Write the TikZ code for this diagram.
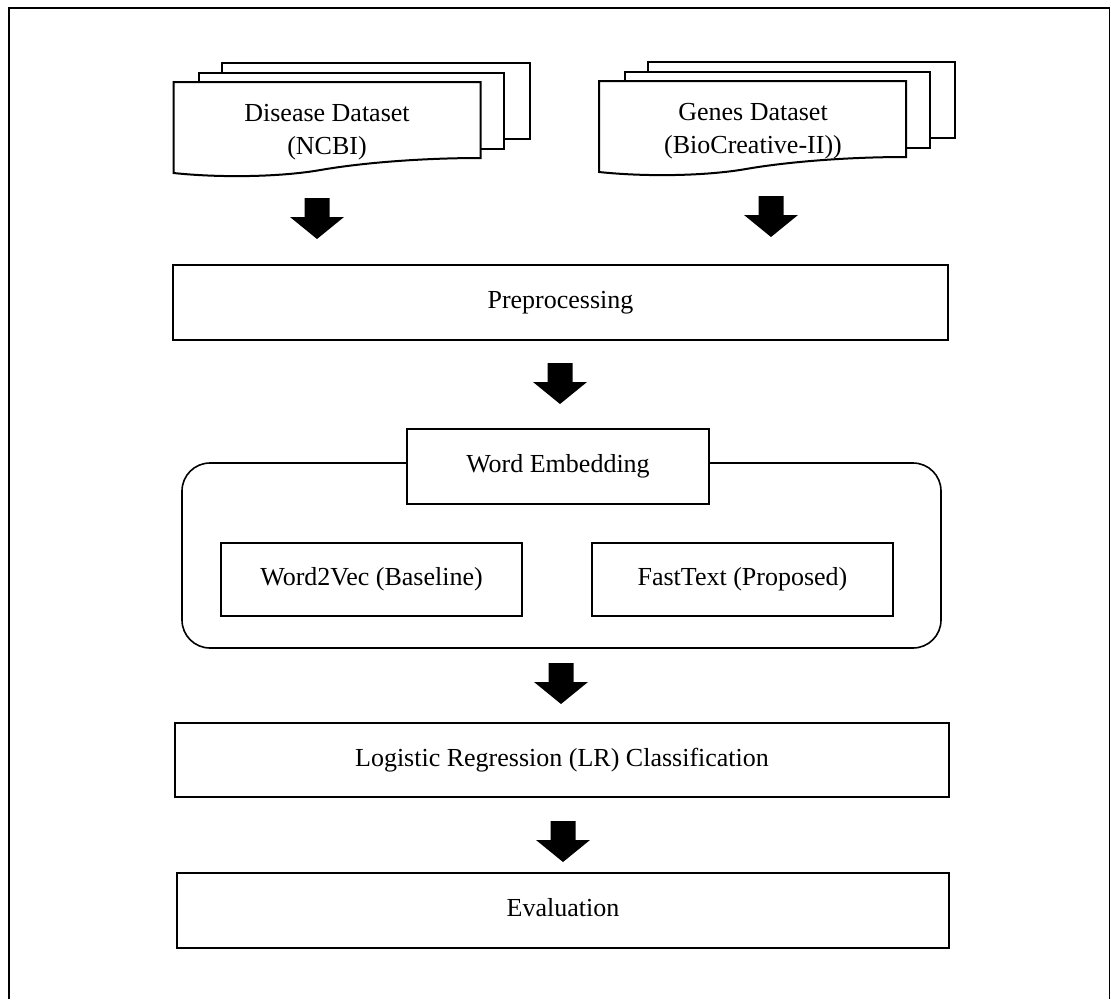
\documentclass[tikz,border=0pt]{standalone}
\usepackage{fontspec}
\setmainfont{Liberation Serif}
\begin{document}
\begin{tikzpicture}[x=1pt,y=-1pt,
  box/.style={draw, line width=2pt, fill=white, inner sep=0pt,
    font=\fontsize{26}{31}\selectfont, text height=18pt, text depth=6pt},
  group/.style={draw, line width=1.6pt, rounded corners=28pt, inner sep=0pt},
  sheet/.style={draw, line width=2pt, fill=white},
  lbl/.style={align=center, inner sep=0pt, font=\fontsize{26}{33}\selectfont},
  blockarrow/.pic={\fill[black] (-12.5,0) -- (12.5,0) -- (12.5,19) -- (27,19)
      -- (0,41) -- (-27,19) -- (-12.5,19) -- cycle;},
  docstack/.pic={
    \draw[sheet] (48.5,-19) rectangle (356,57);
    \draw[sheet] (25.5,-9.5) rectangle (330.5,67);
    \draw[sheet] (0,0) -- (307,0) -- (307,76)
      .. controls (247,76) and (187,81) .. (147,88)
      .. controls (107,95) and (47,96) .. (0,91) -- cycle;}
]
\useasboundingbox (0,0) rectangle (1111,999);
% outer frame
\draw[line width=1.6pt] (9,999) -- (9,8) -- (1109.5,8) -- (1109.5,999);

% datasets
\pic at (173.5,82) {docstack};
\node[lbl] (dis) at (327,132) {Disease Dataset\\(NCBI)};
\pic at (599,81) {docstack};
\node[lbl] (gen) at (753,131.5) {Genes Dataset\\(BioCreative-II))};

\pic at (317,198) {blockarrow};
\pic at (771,196) {blockarrow};

% preprocessing
\node[box, minimum width=775pt, minimum height=75pt] (pre) at (560.5,302.5) {Preprocessing};
\pic at (560,363) {blockarrow};

% word embedding group
\node[group, minimum width=759pt, minimum height=185pt] (grp) at (561.5,555.5) {};
\node[box, minimum width=302pt, minimum height=75pt] (emb) at (558,466.5) {Word Embedding};
\node[box, minimum width=301pt, minimum height=73pt] (w2v) at (371.5,579.5) {Word2Vec (Baseline)};
\node[box, minimum width=301pt, minimum height=73pt] (ft) at (742.5,579.5) {FastText (Proposed)};
\pic at (561,663) {blockarrow};

% classification
\node[box, minimum width=774pt, minimum height=74pt] (lr) at (562,760) {Logistic Regression (LR) Classification};
\pic at (563,821) {blockarrow};

% evaluation
\node[box, minimum width=772pt, minimum height=75pt] (ev) at (563,910.5) {Evaluation};
\end{tikzpicture}
\end{document}
